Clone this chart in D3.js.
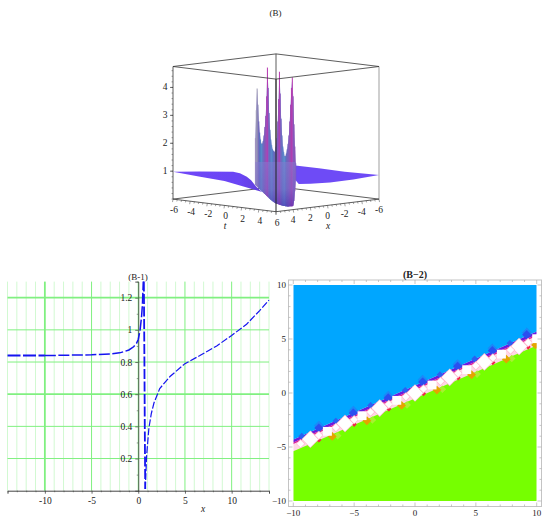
<!DOCTYPE html>
<html><head><meta charset="utf-8">
<script src="https://cdn.jsdelivr.net/npm/d3@7/dist/d3.min.js"></script>
<style>
html,body{margin:0;padding:0;background:#fff}
svg{display:block}
text{font-family:"Liberation Serif",serif;fill:#222}
</style></head><body><svg id="c" width="550" height="520"></svg>
<script>
// ---------- panel B (3D surface) ----------
const zTicks3d=[1,2,3,4];
const tTicks=[-6,-4,-2,0,2,4,6];
const xTicks3d=[4,2,0,-2,-4,-6];
// surface is stored as (u = t - x, apparent height z)
const leftWingTopU=[-12,-8.9,-5,-4.2,-3.4,-2.9,-2.3,-1.6];
const leftWingTopZ=[1,1.01,1,.94,.82,.69,.46,.27];
const leftWingLowU=[-1.6,-2.4,-6,-9,-12];
const leftWingLowZ=[.27,.34,.67,.83,1];
const rightWingTopU=[2.25,5,8,12];
const rightWingTopZ=[1.22,1.12,1.0,.88];
const rightWingLowU=[12,9,6.3,4,2.65,2.25];
const rightWingLowZ=[.88,.72,.61,.57,.56,.7];
const colU=[-2.4,-2.3,-2.2,-2.1,-2,-1.9,-1.8,-1.7,-1.6,-1.5,-1.4,-1.3,-1.2,-1.1,-1,-.9,-.8,-.7,-.6,-.5,-.4,-.3,-.2,-.1,0,.1,.2,.3,.4,.5,.6,.7,.8,.9,1,1.1,1.2,1.3,1.4,1.5,1.6,1.7,1.8,1.9,2,2.1,2.2,2.3];
const colTop=[2.2,3.2,3.98,3.4,2.8,2.4,2.15,2.0,2.0,2.1,2.3,2.6,3.0,3.7,4.73,4.0,3.1,2.5,2.15,1.95,1.8,1.75,1.7,1.75,1.9,2.2,2.8,3.6,4.58,3.8,2.9,2.3,1.9,1.7,1.55,1.55,1.65,1.8,2.0,2.3,2.8,3.4,4.0,4.38,3.7,2.7,1.9,1.3];
const colLow=[.52,.5,.47,.44,.41,.38,.35,.32,.29,.26,.23,.2,.17,.14,.11,.08,.05,.02,-.01,-.03,-.06,-.08,-.1,-.12,-.14,-.15,-.16,-.17,-.18,-.19,-.2,-.21,-.22,-.23,-.23,-.24,-.24,-.25,-.25,-.25,-.24,-.24,-.24,-.24,-.22,-.05,.3,.7];
const colTint=["#9c8cc0","#a09eb8","#a09eb4","#8a86b8","#7068bc","#5474c0","#5080c4","#5490cc","#5c80c8","#6470c0","#7068c0","#8258b8","#9450b8","#a04cb8","#b838b0","#8a5cc0","#7068c0","#5874c4","#5484c8","#588ccc","#5480c8","#6470c0","#6a68bc","#6a68bc","#6a68bc","#7460bc","#8858bc","#9c4cb8","#b838b0","#8a5cc0","#7068c0","#6474c0","#5484c8","#588ccc","#5c90cc","#5480c8","#6470bc","#6e68bc","#7660bc","#8458bc","#9450b8","#a048b4","#b03cb0","#c040b4","#9456b8","#8a54b8","#8a50b8","#7a50c0"];
// ---------- panel B-1 ----------
const curveFarX=[-14,-10];
const curveFarY=[.84,.84];
const curveLeftX=[-10,-7,-5,-3,-2,-1.5,-1,-.5,-.2,0,.2,.35,.45,.5,.54];
const curveLeftY=[.84,.843,.845,.85,.857,.865,.875,.895,.915,.94,1.0,1.08,1.16,1.24,1.3];
const curveDropX=[.6,.66,.7,.73,.75];
const curveDropY=[1.3,.8,.4,.15,.01];
const curveRightX=[.75,.8,.9,1.14,1.4,1.68,2.3,3.4,5,6.6,8.4,10,11.6,13,14];
const curveRightY=[.01,.08,.22,.39,.48,.545,.635,.71,.79,.84,.9,.965,1.035,1.12,1.185];
const b1XMajor=[-10,-5,0,5,10];
const b1XMinor=[-14,-13,-12,-11,-9,-8,-7,-6,-4,-3,-2,-1,1,2,3,4,6,7,8,9,11,12,13,14];
const b1YMajor=[.2,.4,.6,.8,1,1.2];
const b1YMinor=[.1,.3,.5,.7,.9,1.1,1.3];
// ---------- panel B-2 ----------
const b2Ticks=[-10,-5,0,5,10];
const b2Minor=[-9,-8,-7,-6,-4,-3,-2,-1,1,2,3,4,6,7,8,9];
const blueEdgeX=[-10,10];const blueEdgeY=[-4.3,5.7];
const greenEdgeX=[-10,10];const greenEdgeY=[-5.4,4.4];
const squareX=[-7.2,-4.35,-1.5,1.4,4.25,7.1,10];
const squareY=[-3.55,-2.1,-.68,.74,2.16,3.6,5.03];
const largeX=[-8.6,-5.75,-2.9,0,2.85,5.7,8.55];
const largeY=[-4.28,-2.83,-1.4,.0,1.45,2.88,4.3];
const smallX=[-9.4,-7.9,-6.5,-5,-3.65,-2.15,-.75,.7,2.1,3.55,5,6.4,7.85,9.3];
const smallY=[-4.7,-3.92,-3.2,-2.47,-1.77,-1.05,-.35,.38,1.08,1.82,2.52,3.25,3.97,4.68];
const darkBlueX=[-7.9,-5.07,-2.2,.63,3.5,6.36,9.18];
const darkBlueY=[-3.24,-1.85,-.46,1.02,2.47,3.92,5.4];
const midBlueX=[-9.3,-6.5,-3.65,-.8,2.05,4.9,7.8];
const midBlueY=[-4.0,-2.6,-1.15,.25,1.7,3.15,4.6];
const orangeX=[-6.8,-3.95,-1.1,1.8,4.65,7.5,9.9];
const orangeY=[-4.02,-2.57,-1.15,.27,1.69,3.13,4.45];
const limeX=[-6.35,-3.5,-.65,2.25,5.1,7.95];
const limeY=[-3.95,-2.5,-1.1,.35,1.75,3.2];
const redX=[-7.9,-5,-2.15,.7,3.55,6.4,9.3];
const redY=[-4.35,-2.9,-1.48,-.05,1.4,2.82,4.25];

const svg=d3.select("#c");
const defs=svg.append("defs");
defs.append("filter").attr("id","soft").append("feGaussianBlur").attr("stdDeviation",.45);

// ===== 3D panel =====
const uS=d3.scaleLinear().domain([-12,12]).range([173,379]);
const zS=d3.scaleLinear().domain([0,4.75]).range([199.6,67]);
const vS=d3.scaleLinear().domain([0,12]).range([-12.6,0]);
const P=(t,x,z)=>[uS(t-x),zS(z)+vS(t+x)+12.1];
const g3=svg.append("g");
const box=[[-6,6],[6,6],[6,-6],[-6,-6]];
const boxTop=box.map(d=>P(d[0],d[1],4.75));
const boxBot=box.map(d=>P(d[0],d[1],0));
const edge=(a,b,w,c)=>g3.append("line").attr("x1",a[0]).attr("y1",a[1]).attr("x2",b[0]).attr("y2",b[1]).attr("stroke",c||"#333").attr("stroke-width",w||.8);
edge(boxBot[3],boxTop[3]);edge(boxBot[3],boxBot[0]);edge(boxBot[3],boxBot[2]);edge(boxTop[3],boxTop[0]);edge(boxTop[3],boxTop[2]);
edge(boxBot[0],boxTop[0]);edge(boxBot[2],boxTop[2],.7,"#777");

const surf=g3.append("g").attr("filter","url(#soft)");
const pts=(us,zs)=>us.map((u,i)=>[uS(u),zS(zs[i])]);
const poly=(p,f)=>surf.append("path").attr("d",d3.line()(p)+"Z").attr("fill",f);
const wingGrad=defs.append("linearGradient").attr("id","wing").attr("x1",0).attr("x2",1).attr("y1",0).attr("y2",0);
wingGrad.append("stop").attr("offset",0).attr("stop-color","#7048f8");
wingGrad.append("stop").attr("offset",.75).attr("stop-color","#6a44f4");
wingGrad.append("stop").attr("offset",1).attr("stop-color","#6040d8");
poly(pts(leftWingTopU,leftWingTopZ).concat(pts(leftWingLowU,leftWingLowZ)),"url(#wing)");
poly(pts(rightWingTopU,rightWingTopZ).concat(pts(rightWingLowU,rightWingLowZ)),"#6e4cf6");
const centre=pts(colU,colTop).concat(pts(colU.slice().reverse(),colLow.slice().reverse()));
poly(centre,"#7468c0");
surf.selectAll("line.c").data(colU).join("line").attr("class","c")
 .attr("x1",d=>uS(d)).attr("x2",d=>uS(d))
 .attr("y1",(d,i)=>zS(colTop[i])).attr("y2",(d,i)=>zS(colLow[i]))
 .attr("stroke",(d,i)=>colTint[i]).attr("stroke-width",1);
const lowGrad=defs.append("linearGradient").attr("id","low").attr("x1",0).attr("x2",0).attr("y1",0).attr("y2",1);
lowGrad.append("stop").attr("offset",0).attr("stop-color","#8478d0").attr("stop-opacity",.55);
lowGrad.append("stop").attr("offset",.6).attr("stop-color","#7868c8").attr("stop-opacity",.55);
lowGrad.append("stop").attr("offset",1).attr("stop-color","#4a30b0").attr("stop-opacity",.6);
poly(pts(colU,colU.map(()=>1.35)).concat(pts(colU.slice().reverse(),colLow.slice().reverse())),"url(#low)");

edge(boxBot[0],boxBot[1]);edge(boxBot[1],boxBot[2]);
edge(boxTop[0],boxTop[1]);edge(boxTop[1],boxTop[2]);
edge(boxBot[1],boxTop[1],1,"#222");
const zMinor=d3.range(0,4.75,.2);
g3.selectAll("line.zm").data(zMinor).join("line").attr("x1",d=>P(-6,6,d)[0]-1.5).attr("x2",d=>P(-6,6,d)[0])
 .attr("y1",d=>P(-6,6,d)[1]).attr("y2",d=>P(-6,6,d)[1]).attr("stroke","#444").attr("stroke-width",.5);
g3.selectAll("line.zt").data(zTicks3d).join("line").attr("x1",d=>P(-6,6,d)[0]-3).attr("x2",d=>P(-6,6,d)[0])
 .attr("y1",d=>P(-6,6,d)[1]).attr("y2",d=>P(-6,6,d)[1]).attr("stroke","#333").attr("stroke-width",.7);
g3.selectAll("text.zl").data(zTicks3d).join("text").attr("x",165).attr("y",d=>P(-6,6,d)[1]+3).attr("text-anchor","middle").attr("font-size",9.5).text(d=>d);
const tMinor=d3.range(-6,6.01,.5);
tMinor.forEach(v=>{
  const a=P(v,6,0),b=P(6,-v,0),m=Number.isInteger(v/2)?3:1.8;
  g3.append("line").attr("x1",a[0]).attr("y1",a[1]).attr("x2",a[0]-.5).attr("y2",a[1]+m).attr("stroke","#444").attr("stroke-width",.5);
  g3.append("line").attr("x1",b[0]).attr("y1",b[1]).attr("x2",b[0]+.5).attr("y2",b[1]+m).attr("stroke","#444").attr("stroke-width",.5);
});
g3.selectAll("text.tl").data(tTicks).join("text").attr("x",d=>P(d,6,0)[0]+1).attr("y",d=>P(d,6,0)[1]+14).attr("text-anchor","middle").attr("font-size",9.5).text(d=>d<0?"-"+(-d):d);
g3.selectAll("text.xl").data(xTicks3d).join("text").attr("x",d=>P(6,d,0)[0]).attr("y",d=>P(6,d,0)[1]+13.5).attr("text-anchor","middle").attr("font-size",9.5).text(d=>d<0?"-"+(-d):d);
svg.append("text").attr("x",225).attr("y",229).attr("text-anchor","middle").attr("font-size",9.5).attr("font-style","italic").text("t");
svg.append("text").attr("x",328).attr("y",229).attr("text-anchor","middle").attr("font-size",9.5).attr("font-style","italic").text("x");
svg.append("text").attr("x",275.5).attr("y",16).attr("text-anchor","middle").attr("font-size",9).text("(B)");

// ===== B-1 =====
const x1=d3.scaleLinear().domain([-14,14]).range([7.5,269]);
const y1=d3.scaleLinear().domain([0,1.3]).range([490.7,281.6]);
const g1=svg.append("g");
g1.selectAll("line.m").data(b1XMinor).join("line").attr("x1",d=>x1(d)).attr("x2",d=>x1(d)).attr("y1",y1(0)).attr("y2",y1(1.3)).attr("stroke","#d2f9d2").attr("stroke-width",1);
g1.selectAll("line.M").data(b1XMajor).join("line").attr("x1",d=>x1(d)).attr("x2",d=>x1(d)).attr("y1",y1(0)).attr("y2",y1(1.3)).attr("stroke","#80f080").attr("stroke-width",d=>d==-10?1.8:1);
g1.selectAll("line.Y").data(b1YMajor).join("line").attr("x1",x1(-14)).attr("x2",x1(14)).attr("y1",d=>y1(d)).attr("y2",d=>y1(d)).attr("stroke","#80f080").attr("stroke-width",d=>(d==.6||d==1.2)?1.8:1);
const ax=g1.append("g").attr("transform",`translate(0,${y1(0)})`).call(d3.axisBottom(x1).tickValues(b1XMajor).tickSize(3).tickFormat(d=>d<0?"-"+(-d):d));
ax.select(".domain").attr("stroke","#444").attr("stroke-width",1);
ax.selectAll(".tick line").attr("stroke","#444").attr("stroke-width",.8);
ax.selectAll("text").attr("font-size",9.5).attr("font-family","Liberation Serif").attr("fill","#333").attr("dy",".75em");
const axm=g1.append("g").attr("transform",`translate(0,${y1(0)})`).call(d3.axisBottom(x1).tickValues(b1XMinor).tickSize(1.5).tickFormat(""));
axm.select(".domain").remove();axm.selectAll(".tick line").attr("stroke","#555").attr("stroke-width",.8);
const ay=g1.append("g").attr("transform",`translate(${x1(0)},0)`).call(d3.axisLeft(y1).tickValues(b1YMajor).tickSize(3).tickFormat(d=>d));
ay.select(".domain").attr("stroke","#333").attr("stroke-width",.8);
ay.selectAll(".tick line").attr("stroke","#444").attr("stroke-width",.7);
ay.selectAll("text").attr("font-size",9.5).attr("font-family","Liberation Serif").attr("fill","#333");
const aym=g1.append("g").attr("transform",`translate(${x1(0)},0)`).call(d3.axisLeft(y1).tickValues(b1YMinor).tickSize(1.5).tickFormat(""));
aym.select(".domain").remove();aym.selectAll(".tick line").attr("stroke","#555").attr("stroke-width",.6);
const cl2=d3.line().x(d=>x1(d[0])).y(d=>y1(d[1]));
const cg=g1.append("g").attr("fill","none").attr("stroke","#1414f0");
cg.append("path").attr("d",cl2(curveFarX.map((d,i)=>[d,curveFarY[i]]))).attr("stroke-width",2).attr("stroke-dasharray","13 2.5");
cg.append("path").attr("d",cl2(curveLeftX.map((d,i)=>[d,curveLeftY[i]]))).attr("stroke-width",1.5).attr("stroke-dasharray","11 2.5");
cg.append("path").attr("d",cl2(curveDropX.map((d,i)=>[d,curveDropY[i]]))).attr("stroke-width",1.8).attr("stroke-dasharray","10 2.5");
cg.append("path").attr("d",cl2(curveRightX.map((d,i)=>[d,curveRightY[i]]))).attr("stroke-width",1.2).attr("stroke-dasharray","7 2");
svg.append("text").attr("x",203).attr("y",512).attr("text-anchor","middle").attr("font-size",9.5).attr("font-style","italic").text("x");
svg.append("text").attr("x",138).attr("y",280).attr("text-anchor","middle").attr("font-size",9).text("(B-1)");

// ===== B-2 =====
const x2=d3.scaleLinear().domain([-10,10]).range([293.3,536.7]);
const y2=d3.scaleLinear().domain([-10,10]).range([501,285]);
const g2=svg.append("g");
defs.append("clipPath").attr("id","plot").append("rect")
 .attr("x",x2(-10)).attr("y",y2(10)).attr("width",x2(10)-x2(-10)).attr("height",y2(-10)-y2(10));
const marks=g2.append("g").attr("clip-path","url(#plot)").append("g").attr("filter","url(#soft)");
marks.append("rect").attr("x",x2(-10)).attr("y",y2(10)).attr("width",x2(10)-x2(-10)).attr("height",y2(-10)-y2(10)).attr("fill","#ffd8e6");
const l2=d3.line().x(d=>x2(d[0])).y(d=>y2(d[1]));
const strip=(a,b,f)=>marks.append("path").attr("d",l2([[-10,blueEdgeY[0]+a],[10,blueEdgeY[1]+a],[10,blueEdgeY[1]+b],[-10,blueEdgeY[0]+b]])+"Z").attr("fill",f);
strip(0,-.28,"#6a1ee0");
strip(-.28,-.42,"#d8209a");
const diamond=(xs,ys,r,f)=>marks.selectAll(null).data(xs).join("path")
  .attr("d",(d,i)=>{const X=x2(d),Y=y2(ys[i]);return `M${X-r},${Y}L${X},${Y-r}L${X+r},${Y}L${X},${Y+r}Z`;}).attr("fill",f);
marks.append("path").attr("d",l2([[-10,10],[10,10],[blueEdgeX[1],blueEdgeY[1]],[blueEdgeX[0],blueEdgeY[0]]])+"Z").attr("fill","#00a6ff");
marks.append("path").attr("d",l2([[-10,-10],[10,-10],[greenEdgeX[1],greenEdgeY[1]],[greenEdgeX[0],greenEdgeY[0]]])+"Z").attr("fill","#76ff00");
diamond(darkBlueX,darkBlueY.map(d=>d+.2),5,"#1a88f8");
diamond(darkBlueX,darkBlueY,4.6,"#2a50f0");
diamond(midBlueX,midBlueY,3.4,"#2a60f2");
diamond(limeX,limeY,3.8,"#a8f030");
diamond(orangeX,orangeY,4.4,"#e4a400");
diamond(redX,redY,2.6,"#f02848");
diamond(largeX,largeY,8.8,"#ffb4cc");
diamond(largeX,largeY,8,"#fff");
diamond(smallX,smallY,4.6,"#ffb8d0");
diamond(smallX,smallY,3.7,"#fff");
marks.selectAll("rect.s").data(squareX).join("rect").attr("class","s")
  .attr("x",d=>x2(d)-4.5).attr("y",(d,i)=>y2(squareY[i])-4.4).attr("width",9).attr("height",8.8).attr("fill","#fff");
g2.append("rect").attr("x",288.5).attr("y",280).attr("width",253).attr("height",226.5).attr("fill","none").attr("stroke","#c4c4c4").attr("stroke-width",1);
const frameTick=(v,l)=>{
  g2.append("line").attr("x1",x2(v)).attr("x2",x2(v)).attr("y1",506.5).attr("y2",506.5-l).attr("stroke","#b0b0b0").attr("stroke-width",.7);
  g2.append("line").attr("x1",x2(v)).attr("x2",x2(v)).attr("y1",280).attr("y2",280+l).attr("stroke","#b0b0b0").attr("stroke-width",.7);
  g2.append("line").attr("y1",y2(v)).attr("y2",y2(v)).attr("x1",288.5).attr("x2",288.5+l).attr("stroke","#b0b0b0").attr("stroke-width",.7);
  g2.append("line").attr("y1",y2(v)).attr("y2",y2(v)).attr("x1",541.5).attr("x2",541.5-l).attr("stroke","#b0b0b0").attr("stroke-width",.7);
};
b2Ticks.forEach(v=>frameTick(v,4));b2Minor.forEach(v=>frameTick(v,2));
g2.selectAll("text.bx").data(b2Ticks).join("text").attr("x",d=>x2(d)).attr("y",516).attr("text-anchor","middle").attr("font-size",9).text(d=>d<0?"\u2212"+(-d):d);
g2.selectAll("text.by").data(b2Ticks).join("text").attr("x",286).attr("y",d=>y2(d)+3).attr("text-anchor","end").attr("font-size",9).text(d=>d<0?"\u2212"+(-d):d);
svg.append("text").attr("x",415).attr("y",278).attr("text-anchor","middle").attr("font-size",10).attr("font-weight","bold").text("(B\u22122)");
</script></body></html>
